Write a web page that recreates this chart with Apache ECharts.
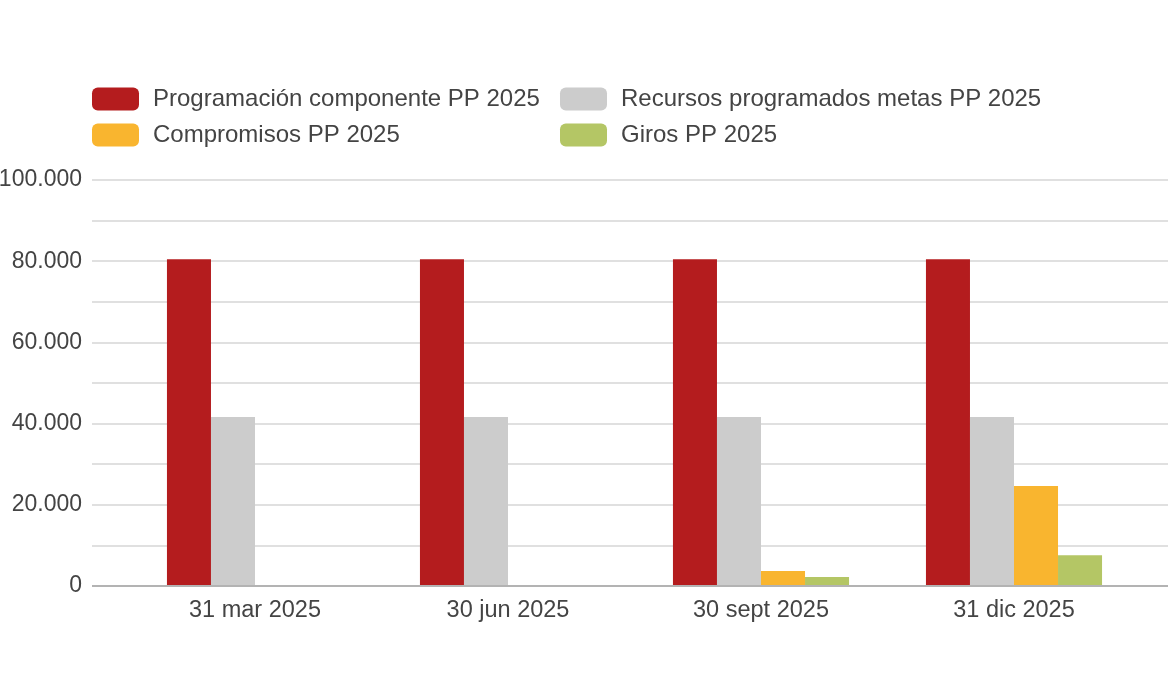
<!DOCTYPE html>
<html>
<head>
<meta charset="utf-8">
<script src="https://cdn.jsdelivr.net/npm/echarts@6/dist/echarts.min.js"></script>
<style>
	html, body { margin: 0; padding: 0; background: #fff; }
	#chart { width: 1170px; height: 697px; }
</style>
</head>
<body>
<div id="chart"></div>
<script>
	// datos
	var categorias = ['31 mar 2025', '30 jun 2025', '30 sept 2025', '31 dic 2025'];
	var programacion = [80500, 80500, 80500, 80500];
	var recursos = [41600, 41600, 41600, 41600];
	var compromisos = [200, 0, 3700, 24600];
	var giros = [0, 0, 2200, 7600];

	var nombres = ['Programación componente PP 2025', 'Recursos programados metas PP 2025', 'Compromisos PP 2025', 'Giros PP 2025'];
	var colores = ['#b41c1e', '#cccccc', '#f9b52f', '#b4c665'];

	function miles(v) {
		return String(v).replace(/\B(?=(\d{3})+(?!\d))/g, '.');
	}

	var chart = echarts.init(document.getElementById('chart'));
	var textoColor = '#444444';
	var fuente = '"Liberation Sans", Arial, sans-serif';

	var legendBase = {
		orient: 'vertical',
		top: 87,
		padding: 0,
		itemWidth: 47,
		itemHeight: 23,
		itemGap: 12,
		icon: 'roundRect',
		textStyle: { fontSize: 24, lineHeight: 23, color: textoColor, fontFamily: fuente, padding: [0, 0, 0, 9] },
		selectedMode: false
	};

	chart.setOption({
		animation: false,
		color: colores,
		legend: [
			Object.assign({}, legendBase, { left: 92, data: [nombres[0], nombres[2]] }),
			Object.assign({}, legendBase, { left: 560, data: [nombres[1], nombres[3]] })
		],
		grid: [
			// barras
			{ left: 128.5, right: 29.5, top: 180, bottom: 111, outerBoundsMode: 'none' },
			// lineas de fondo y eje
			{ left: 92, right: 2, top: 180, bottom: 111, outerBoundsMode: 'none' }
		],
		xAxis: [
			{
				type: 'category',
				gridIndex: 0,
				data: categorias,
				axisLine: { show: false },
				axisTick: { show: false },
				axisLabel: { fontSize: 23.5, color: textoColor, fontFamily: fuente, margin: 13 }
			},
			{
				type: 'value',
				gridIndex: 1,
				show: false
			}
		],
		yAxis: [
			{
				type: 'value',
				gridIndex: 0,
				min: 0,
				max: 100000,
				interval: 10000,
				show: false
			},
			{
				type: 'value',
				gridIndex: 1,
				min: 0,
				max: 100000,
				interval: 10000,
				axisLine: { show: false },
				axisTick: { show: false },
				splitLine: { lineStyle: { color: '#d6d6d6', width: 1.5 } },
				axisLabel: {
					fontSize: 23,
					color: textoColor,
					fontFamily: fuente,
					margin: 10,
					formatter: function (v) { return v % 20000 === 0 ? miles(v) : ''; }
				}
			}
		],
		series: [
			{ name: nombres[0], type: 'bar', data: programacion, barGap: '0%', barCategoryGap: '30.4%' },
			{ name: nombres[1], type: 'bar', data: recursos, barGap: '0%', barCategoryGap: '30.4%' },
			{ name: nombres[2], type: 'bar', data: compromisos, barGap: '0%', barCategoryGap: '30.4%' },
			{ name: nombres[3], type: 'bar', data: giros, barGap: '0%', barCategoryGap: '30.4%' },
			{
				// linea base en cero
				type: 'line',
				xAxisIndex: 1,
				yAxisIndex: 1,
				data: [],
				silent: true,
				markLine: {
					symbol: 'none',
					label: { show: false },
					lineStyle: { color: '#b3b3b3', width: 2, type: 'solid' },
					data: [{ yAxis: 0 }]
				}
			}
		]
	});
</script>
</body>
</html>
